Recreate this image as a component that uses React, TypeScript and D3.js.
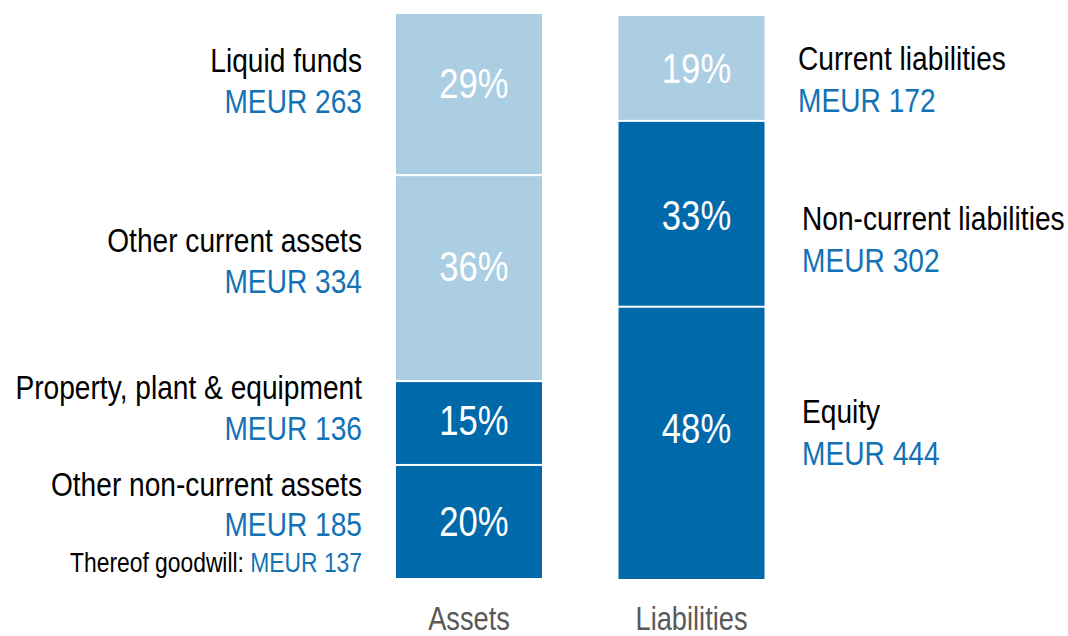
import React from "react";
import * as d3 from "d3";

// ---- data ----
const barNames = ["Assets", "Liabilities"];

const assetCategories = ["Other non-current assets", "Property, plant & equipment", "Other current assets", "Liquid funds"];
const assetValues = [185, 136, 334, 263];
const assetShares = [20, 15, 36, 29];
const assetIsCurrent = [false, false, true, true];

const liabilityCategories = ["Equity", "Non-current liabilities", "Current liabilities"];
const liabilityValues = [444, 302, 172];
const liabilityShares = [48, 33, 19];
const liabilityIsCurrent = [false, false, true];

const goodwillLabel = "Thereof goodwill: ";
const goodwillValue = 137;
const unit = "MEUR";

// ---- layout tweaks (label nudges, px) ----
const assetPctNudge = [-1, -3, -12, -11];
const liabPctNudge = [-15, 1, 0];
const assetLabelNudge = [-2, 0, -2, 2];
const liabLabelNudge = [3.5, 40, 26.5];

const W = 1068;
const H = 636;
const LIGHT = "#abcee3";
const DARK = "#0069aa";
const BLUE_TEXT = "#1372b5";
const GREY = "#595959";
const FONT = "'Liberation Sans', Arial, Helvetica, sans-serif";

function stack(values: number[]) {
  let acc = 0;
  return values.map((v) => {
    const s = { y0: acc, y1: acc + v };
    acc += v;
    return s;
  });
}

function NText(props: {
  x: number;
  y: number;
  anchor?: "start" | "middle" | "end";
  fill: string;
  size: number;
  sx?: number;
  children: React.ReactNode;
}) {
  return (
    <text
      transform={`translate(${props.x},${props.y}) scale(${props.sx ?? 0.825},1)`}
      textAnchor={props.anchor || "start"}
      fill={props.fill}
      fontFamily={FONT}
      fontSize={props.size}
    >
      {props.children}
    </text>
  );
}

export default function App() {
  const total = d3.sum(assetValues);
  const x = d3.scaleBand<string>().domain(barNames).range([396, 764.5]).paddingInner(0.344).paddingOuter(0);
  const yA = d3.scaleLinear().domain([0, total]).range([579, 13]);
  const yL = d3.scaleLinear().domain([0, d3.sum(liabilityValues)]).range([580, 15]);
  const bw = x.bandwidth();
  const xa = x("Assets")!;
  const xl = x("Liabilities")!;
  const aStack = stack(assetValues);
  const lStack = stack(liabilityValues);
  const gap = 1;
  const pctSize = 42;
  const labelSize = 33.5;
  const lsx = 0.84;

  return (
    <div style={{ position: "fixed", left: 0, top: 0 }}>
      <svg width={W} height={H} style={{ display: "block", background: "#fff" }}>
        {/* Asset bar */}
        {aStack.map((s, i) => {
          const top = yA(s.y1);
          const bot = yA(s.y0);
          const cy = (top + bot) / 2;
          const by = cy - 24 + assetLabelNudge[i];
          return (
            <g key={"a" + i}>
              <rect x={xa} y={top + gap} width={bw} height={bot - top - 2 * gap} fill={assetIsCurrent[i] ? LIGHT : DARK} />
              <NText x={xa + bw / 2 + 5} y={cy + assetPctNudge[i] + pctSize * 0.358} anchor="middle" fill="#fff" size={pctSize}>
                {assetShares[i]}%
              </NText>
              <NText x={362} y={by} anchor="end" fill="#000" size={labelSize} sx={lsx}>
                {assetCategories[i]}
              </NText>
              <NText x={362} y={by + 40.5} anchor="end" fill={BLUE_TEXT} size={labelSize} sx={lsx}>
                {unit} {assetValues[i]}
              </NText>
              {i === 0 && (
                <NText x={362} y={by + 76} anchor="end" fill="#000" size={27.7}>
                  {goodwillLabel}
                  <tspan fill={BLUE_TEXT}>{unit} {goodwillValue}</tspan>
                </NText>
              )}
            </g>
          );
        })}

        {/* Liabilities bar */}
        {lStack.map((s, i) => {
          const top = yL(s.y1);
          const bot = yL(s.y0);
          const cy = (top + bot) / 2;
          const lx = i === 2 ? 798 : 802;
          const by = cy - 24 + liabLabelNudge[i];
          return (
            <g key={"l" + i}>
              <rect x={xl} y={top + gap} width={bw} height={bot - top - 2 * gap} fill={liabilityIsCurrent[i] ? LIGHT : DARK} />
              <NText x={xl + bw / 2 + 5} y={cy + liabPctNudge[i] + pctSize * 0.358} anchor="middle" fill="#fff" size={pctSize}>
                {liabilityShares[i]}%
              </NText>
              <NText x={lx} y={by} fill="#000" size={labelSize} sx={lsx}>
                {liabilityCategories[i]}
              </NText>
              <NText x={lx} y={by + 42} fill={BLUE_TEXT} size={labelSize} sx={lsx}>
                {unit} {liabilityValues[i]}
              </NText>
            </g>
          );
        })}

        {/* Category axis labels */}
        {barNames.map((b) => (
          <NText key={b} x={x(b)! + bw / 2} y={630} anchor="middle" fill={GREY} size={33}>
            {b}
          </NText>
        ))}
      </svg>
    </div>
  );
}
